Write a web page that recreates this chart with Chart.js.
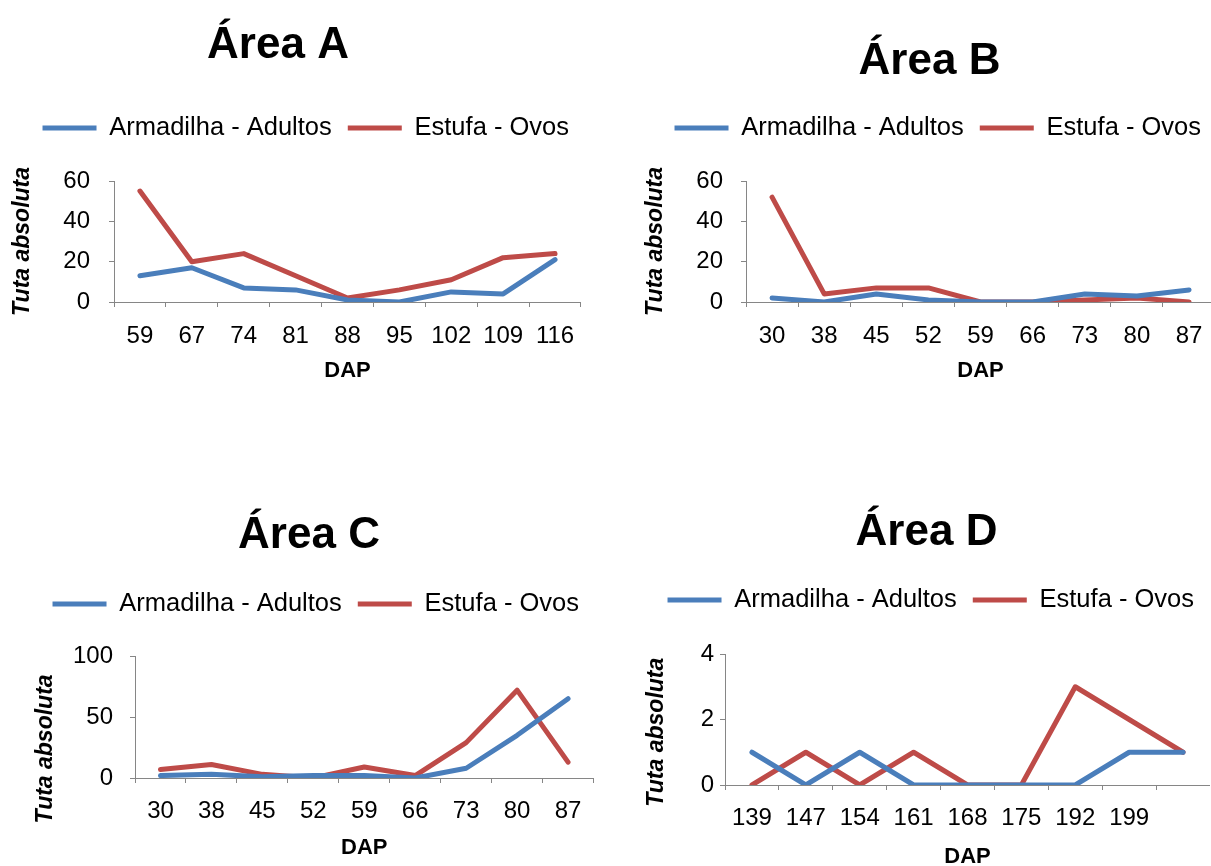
<!DOCTYPE html>
<html>
<head>
<meta charset="utf-8">
<script src="https://cdn.jsdelivr.net/npm/chart.js@4.4.1/dist/chart.umd.min.js"></script>
<style>
  html, body { margin: 0; padding: 0; background: #fff; overflow: hidden; }
  body { position: relative; width: 1211px; height: 866px; }
  canvas { position: absolute; }
</style>
</head>
<body>
<canvas id="chartA" width="618" height="390" style="left:-29px; top:0px"></canvas>
<canvas id="chartB" width="575" height="390" style="left:642px; top:0px"></canvas>
<canvas id="chartC" width="572" height="426" style="left:23px; top:440px"></canvas>
<canvas id="chartD" width="567" height="430" style="left:643px; top:440px"></canvas>
<script>
// series names
const seriesNames = ['Armadilha - Adultos', 'Estufa - Ovos'];

// Área A
const labelsA = ['59', '67', '74', '81', '88', '95', '102', '109', '116'];
const adultosA = [13, 17, 7, 6, 1, 0, 5, 4, 21];
const ovosA = [55, 20, 24, 13, 2, 6, 11, 22, 24];
const yTicksA = [0, 20, 40, 60];

// Área B
const labelsB = ['30', '38', '45', '52', '59', '66', '73', '80', '87'];
const adultosB = [2, 0, 4, 1, 0, 0, 4, 3, 6];
const ovosB = [52, 4, 7, 7, 0, 0, 1, 2, 0];
const yTicksB = [0, 20, 40, 60];

// Área C
const labelsC = ['30', '38', '45', '52', '59', '66', '73', '80', '87'];
const adultosC = [2, 3, 1, 2, 2, 0, 8, 35, 65];
const ovosC = [7, 11, 3, 0, 9, 2, 29, 72, 13];
const yTicksC = [0, 50, 100];

// Área D (last category has no label)
const labelsD = ['139', '147', '154', '161', '168', '175', '192', '199', ''];
const adultosD = [1, 0, 1, 0, 0, 0, 0, 1, 1];
const ovosD = [0, 1, 0, 1, 0, 0, 3, 2, 1];
const yTicksD = [0, 2, 4];

const blue = '#4A7EBB';
const red = '#BE4B48';
const axisGray = '#868686';

Chart.defaults.font.family = "'Liberation Sans', Arial, sans-serif";
Chart.defaults.color = '#000';

// adds some space between legend and plot
function legendGap(gap) {
  return {
    id: 'legendGap',
    beforeInit(chart) {
      const fit = chart.legend.fit;
      chart.legend.fit = function () {
        fit.call(this);
        this.height += gap;
      };
    }
  };
}

function drawPanel(id, p) {
  new Chart(document.getElementById(id), {
    type: 'line',
    data: {
      labels: p.labels,
      datasets: [
        { label: seriesNames[0], data: p.adultos, borderColor: blue, backgroundColor: blue, pointBorderWidth: 5 },
        { label: seriesNames[1], data: p.ovos, borderColor: red, backgroundColor: red, pointBorderWidth: 5 }
      ]
    },
    options: {
      responsive: false,
      animation: false,
      layout: { padding: { left: 0, right: p.padRight, top: 0, bottom: 0 } },
      elements: {
        line: { borderWidth: 5, tension: 0, borderJoinStyle: 'round', borderCapStyle: 'round' },
        point: { radius: 0, hoverRadius: 0 }
      },
      plugins: {
        title: {
          display: true,
          text: p.title,
          font: { size: 44, weight: 'bold' },
          color: '#000',
          padding: { top: p.titleTop, bottom: p.titleBottom }
        },
        legend: {
          align: 'end',
          labels: {
            usePointStyle: true,
            pointStyle: 'line',
            pointStyleWidth: 54,
            padding: 16,
            font: { size: 25.5 },
            color: '#000'
          }
        },
        tooltip: { enabled: false }
      },
      scales: {
        x: {
          offset: true,
          grid: { offset: true, drawOnChartArea: false, drawTicks: true, tickLength: 5, color: axisGray },
          border: { color: axisGray, width: 1 },
          ticks: { font: { size: 24 }, color: '#000', padding: p.xTickPad, autoSkip: false, maxRotation: 0 },
          title: {
            display: true,
            text: 'DAP',
            font: { size: 22, weight: 'bold' },
            color: '#000',
            padding: { top: 0, bottom: p.xTitleBottom }
          },
          afterFit: s => { s.height = p.xHeight; }
        },
        y: {
          min: p.yTicks[0],
          max: p.yTicks[p.yTicks.length - 1],
          grid: { drawOnChartArea: false, drawTicks: true, tickLength: 5, color: axisGray },
          border: { color: axisGray, width: 1 },
          ticks: { stepSize: p.yTicks[1] - p.yTicks[0], font: { size: 24 }, color: '#000', padding: p.yTickPad },
          title: {
            display: true,
            text: p.yTitle,
            font: { size: 23, weight: 'bold', style: 'italic' },
            color: '#000',
            padding: { top: p.yTitlePad, bottom: 0 }
          },
          afterFit: s => { s.width = p.yWidth; }
        }
      }
    },
    plugins: [legendGap(p.gap)]
  });
}

drawPanel('chartA', {
  title: 'Área A', labels: labelsA, adultos: adultosA, ovos: ovosA, yTicks: yTicksA,
  yTitle: 'Tuta absoluta',
  padRight: 4, titleTop: 19.6, titleBottom: 26.8, gap: 30.3,
  yWidth: 143, yTickPad: 19, yTitlePad: 38.2,
  xHeight: 88, xTickPad: 14.6, xTitleBottom: 6.3
});

drawPanel('chartB', {
  title: 'Área B', labels: labelsB, adultos: adultosB, ovos: ovosB, yTicks: yTicksB,
  yTitle: 'Tuta absoluta',
  padRight: 0, titleTop: 35.6, titleBottom: 10.8, gap: 30.3,
  yWidth: 104, yTickPad: 18, yTitlePad: 0,
  xHeight: 88, xTickPad: 14.6, xTitleBottom: 6.3
});

drawPanel('chartC', {
  title: 'Área C', labels: labelsC, adultos: adultosC, ovos: ovosC, yTicks: yTicksC,
  yTitle: 'Tuta absoluta' + '\u00a0'.repeat(10),
  padRight: 0, titleTop: 69.6, titleBottom: 12.8, gap: 29.3,
  yWidth: 112, yTickPad: 17, yTitlePad: 9.2,
  xHeight: 88, xTickPad: 13.6, xTitleBottom: 4.8
});

drawPanel('chartD', {
  title: 'Área D', labels: labelsD, adultos: adultosD, ovos: ovosD, yTicks: yTicksD,
  yTitle: 'Tuta absoluta' + '\u00a0'.repeat(4),
  padRight: 0, titleTop: 66.6, titleBottom: 11.8, gap: 31.3,
  yWidth: 82, yTickPad: 6, yTitlePad: 0,
  xHeight: 85, xTickPad: 13.6, xTitleBottom: 0
});
</script>
</body>
</html>
